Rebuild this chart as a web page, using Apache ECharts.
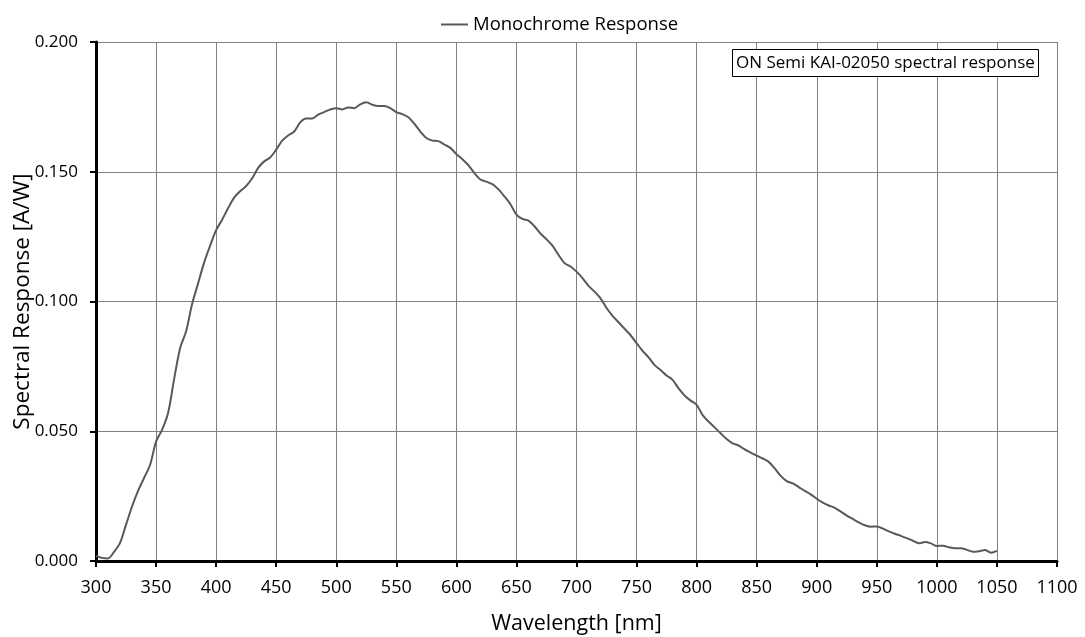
<!DOCTYPE html>
<html><head><meta charset="utf-8">
<script src="https://cdn.jsdelivr.net/npm/echarts@6/dist/echarts.min.js"></script>
<style>html,body{margin:0;padding:0;background:#fff}#c{width:1085px;height:637px}</style>
</head><body><div id="c"></div>
<script>
const wavelengths = [300,305,310,315,320,325,330,335,340,345,350,355,360,365,370,375,380,385,390,395,400,405,410,415,420,425,430,435,440,445,450,455,460,465,470,475,480,485,490,495,500,505,510,515,520,525,530,535,540,545,550,555,560,565,570,575,580,585,590,595,600,605,610,615,620,625,630,635,640,645,650,655,660,665,670,675,680,685,690,695,700,705,710,715,720,725,730,735,740,745,750,755,760,765,770,775,780,785,790,795,800,805,810,815,820,825,830,835,840,845,850,855,860,865,870,875,880,885,890,895,900,905,910,915,920,925,930,935,940,945,950,955,960,965,970,975,980,985,990,995,1000,1005,1010,1015,1020,1025,1030,1035,1040,1045,1050];
const response = [0.0020,0.0012,0.0010,0.0035,0.0070,0.0140,0.0210,0.0270,0.0320,0.0370,0.0460,0.0505,0.0570,0.0700,0.0820,0.0885,0.0990,0.1070,0.1150,0.1215,0.1275,0.1315,0.1360,0.1400,0.1425,0.1445,0.1475,0.1515,0.1540,0.1555,0.1585,0.1620,0.1640,0.1655,0.1690,0.1705,0.1705,0.1720,0.1730,0.1740,0.1745,0.1740,0.1748,0.1745,0.1760,0.1768,0.1758,0.1753,0.1753,0.1745,0.1730,0.1722,0.1710,0.1685,0.1655,0.1630,0.1620,0.1618,0.1605,0.1592,0.1568,0.1548,0.1525,0.1495,0.1470,0.1462,0.1452,0.1432,0.1405,0.1375,0.1335,0.1318,0.1312,0.1290,0.1262,0.1240,0.1215,0.1180,0.1148,0.1135,0.1115,0.1090,0.1060,0.1038,0.1012,0.0975,0.0945,0.0920,0.0895,0.0870,0.0840,0.0810,0.0785,0.0755,0.0736,0.0715,0.0698,0.0665,0.0638,0.0618,0.0602,0.0562,0.0537,0.0515,0.0492,0.0470,0.0453,0.0445,0.0430,0.0418,0.0406,0.0395,0.0382,0.0357,0.0328,0.0308,0.0299,0.0285,0.0270,0.0257,0.0240,0.0225,0.0214,0.0205,0.0190,0.0175,0.0162,0.0149,0.0138,0.0132,0.0133,0.0125,0.0114,0.0105,0.0097,0.0088,0.0078,0.0068,0.0073,0.0068,0.0058,0.0059,0.0053,0.0049,0.0049,0.0043,0.0036,0.0038,0.0042,0.0032,0.0039];
const seriesName = 'Monochrome Response';
const noteText = 'ON Semi KAI-02050 spectral response';
const xName = 'Wavelength [nm]';
const yName = 'Spectral Response [A/W]';

const FONT = '"Open Sans", "Noto Sans", sans-serif';
const chart = echarts.init(document.getElementById('c'), null, {renderer:'canvas'});
chart.setOption({
  animation:false,
  backgroundColor:'#fff',
  textStyle:{fontFamily:FONT},
  title:{text:noteText, left:732, top:49, padding:[4,4,3,4], borderColor:'#000', borderWidth:1, backgroundColor:'#fff',
    textStyle:{fontFamily:FONT, fontSize:17, fontWeight:'normal', color:'#000', lineHeight:21}},
  legend:{top:10, left:436, itemWidth:27, itemHeight:2, icon:'rect', itemGap:4,
    textStyle:{fontFamily:FONT, fontSize:18.5, color:'#000'}, data:[seriesName]},
  grid:{left:96, right:28, top:42, bottom:76, containLabel:false, outerBoundsMode:'none'},
  xAxis:{type:'value', min:300, max:1100, interval:50, name:xName, nameLocation:'middle', nameGap:52,
    nameMoveOverlap:false,
    nameTextStyle:{fontFamily:FONT, fontSize:21.5, color:'#000'},
    axisLine:{lineStyle:{color:'#000', width:3}},
    axisTick:{show:true, length:6, lineStyle:{color:'#000', width:2}},
    axisLabel:{fontFamily:FONT, fontSize:18, color:'#000', margin:18, formatter:v=>String(v)},
    splitLine:{show:true, lineStyle:{color:'#808080', width:1}}},
  yAxis:{type:'value', min:0, max:0.2, interval:0.05, name:yName, nameLocation:'middle', nameGap:62,
    nameMoveOverlap:false,
    nameTextStyle:{fontFamily:FONT, fontSize:22.5, color:'#000'},
    axisLine:{show:true, lineStyle:{color:'#000', width:3}},
    axisTick:{show:true, length:6, lineStyle:{color:'#000', width:2}},
    axisLabel:{fontFamily:FONT, fontSize:17, color:'#000', margin:18, formatter:v=>v.toFixed(3)},
    splitLine:{show:true, lineStyle:{color:'#808080', width:1}}},
  series:[{name:seriesName, type:'line', data:wavelengths.map((w,i)=>[w,response[i]]),
    showSymbol:false, smooth:0.3, lineStyle:{color:'#595959', width:2}, itemStyle:{color:'#595959'}}]
});
</script></body></html>
